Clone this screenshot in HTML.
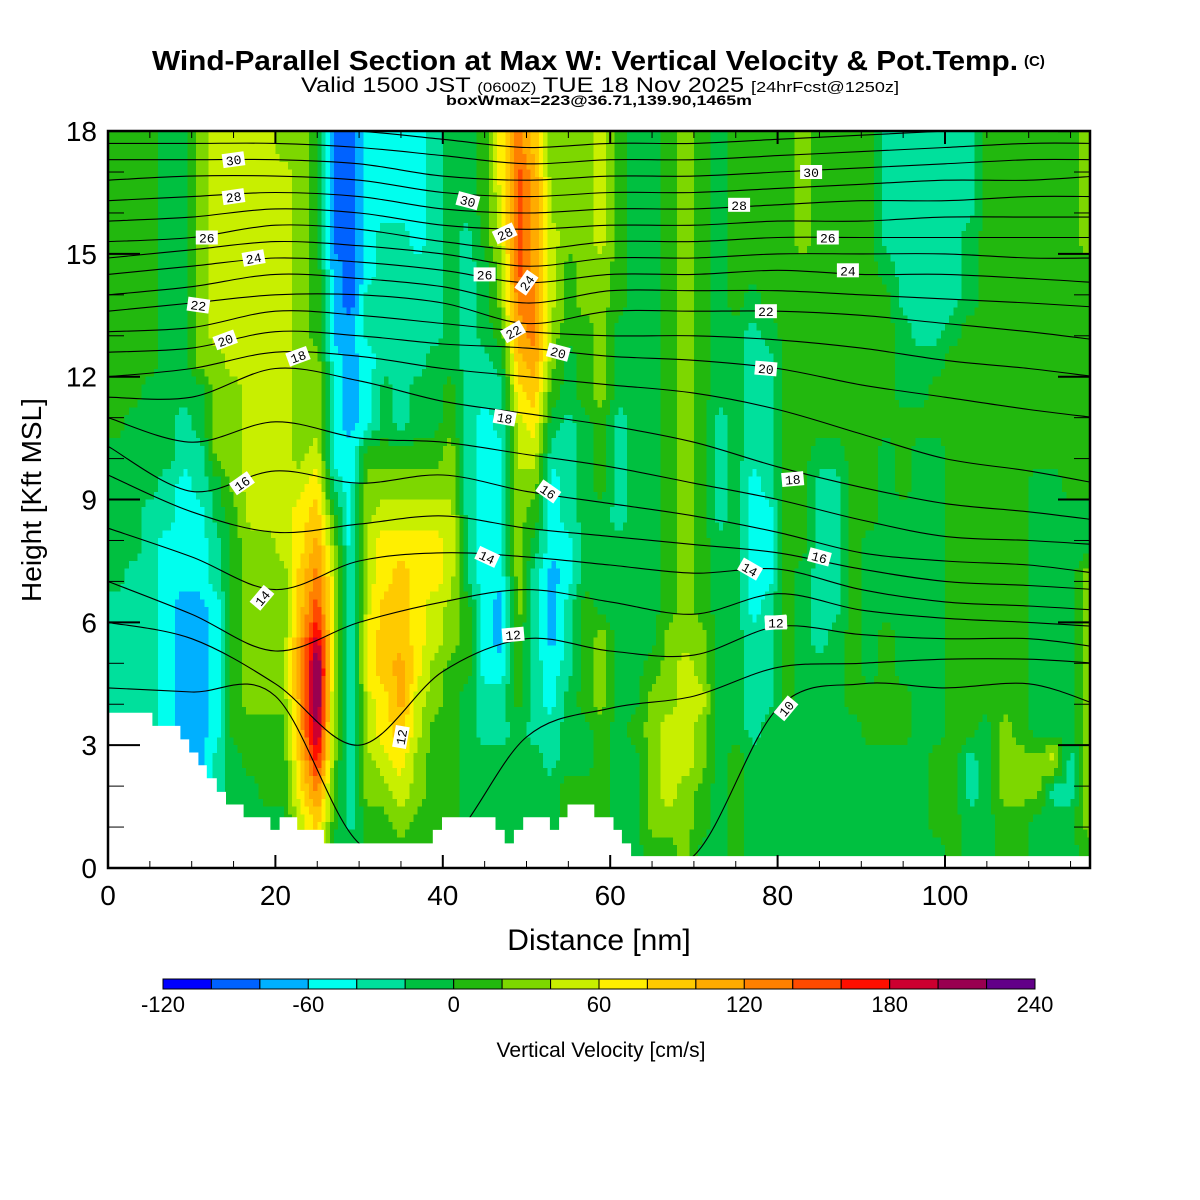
<!DOCTYPE html>
<html><head><meta charset="utf-8"><title>Wind-Parallel Section</title>
<style>
html,body{margin:0;padding:0;background:#fff;}
svg{display:block;font-family:"Liberation Sans",Arial,sans-serif;}
</style></head>
<body>
<svg id="chart" width="1200" height="1200" viewBox="0 0 1200 1200" xmlns="http://www.w3.org/2000/svg">
  <defs><clipPath id="plotclip"><rect x="108" y="131" width="982" height="737"/></clipPath></defs>
  <rect width="1200" height="1200" fill="#fff"/>
  <g>
    <text x="152" y="70" font-size="28" font-weight="bold" textLength="866" lengthAdjust="spacingAndGlyphs">Wind-Parallel Section at Max W: Vertical Velocity &amp; Pot.Temp.</text>
    <text x="1024" y="66" font-size="15" font-weight="bold">(C)</text>
    <text x="301" y="92" font-size="21" textLength="598" lengthAdjust="spacingAndGlyphs">Valid 1500 JST <tspan font-size="14">(0600Z)</tspan> TUE 18 Nov 2025 <tspan font-size="15">[24hrFcst@1250z]</tspan></text>
    <text x="446" y="105" font-size="14" font-weight="bold" textLength="306" lengthAdjust="spacingAndGlyphs">boxWmax=223@36.71,139.90,1465m</text>
  </g>
  <g id="cells" clip-path="url(#plotclip)" shape-rendering="crispEdges"></g>
  <g id="contours" clip-path="url(#plotclip)"></g>
  <g id="terrain" clip-path="url(#plotclip)"></g>
  <g id="clabels"></g>
  <rect x="108" y="131" width="982" height="737" fill="none" stroke="#000" stroke-width="2.5"/>
  <g id="axes"></g>
  <text x="599" y="950" font-size="30" text-anchor="middle">Distance [nm]</text>
  <text x="0" y="0" font-size="28" text-anchor="middle" transform="translate(41,500) rotate(-90)">Height [Kft MSL]</text>
  <g id="colorbar"></g>
  <text x="601" y="1057" font-size="21" text-anchor="middle">Vertical Velocity [cm/s]</text>
</svg>
<script>
// ---- data ----
const levelCodes = "ABCDEFGHIJKLMNOPQR";
const levelColors = ["#0000ff","#0062ff","#00b0ff","#00ffee","#00e09c","#00c040","#22b80e","#7dd700","#c8ef00","#ffef00","#ffca00","#ffab00","#ff8000","#ff4a00","#ff0f00","#cc0030","#990050","#620088"];
const cbTickValues = [-120,-60,0,60,120,180,240];
const cbBounds = [-120,240];
const colStepNm = 2;
const rowStepKft = 0.75;
// each string: one 2-nm column, top (18 kft) to bottom, one char per 0.75 kft
const wLevelCols = [
"GGGGGGGGGGFFFFFEEEEEEEEE","GGGGGGGGGFFFFFEEEEEEEEEE","GGGGGGGGFFFFEEEEEEEEEEEE","FFFFFFFFFFFEEDDDDDDDDDDD",
"FFFFFFFFFEEDDDDCCCCCCCCC","HHHHHHHHFFEEDDDCCCCCCDDD","IIIIIIIHHHHFFEEDDDDDEEEE","IIIIIIIIHHHHGGGGGGGGFFFF",
"IIIIIIIIIIIIIHHHHHHGGFFF","IIIIIIIIIIIIIHHHHHHGGGFF","HIIIIIIIIIIIIIHHHHHGGGFF","HHHHHHHHHHHIJJKKLLLLKJII",
"GGGGGGGHHHIJKLMNPRRQOMKJ","BBBBCCCDDDDEGHIIIIHHHGGF","BBBBBBCCCCDDDDDDDDDDDEEF","DDDDDEEDDDGHHIIIJJIIHHGG",
"DDDEEEEEFFGHIJJKKKJJIHGG","DDDEEEEEEEGHIJKKKLLKJIHG","DDDDEEEEFFGHIJJJJJIIHHGG","EEEEEEEFFFGHIJJIIHHGGGGG",
"FFFFFFFFGGHHIIIHHGGGGGGG","FFFEEEEEEEEEEEEGGGFFFFFG","GGGGFFFEEDDDDDDDDDEEFFFF","JJIIHHGFEEDDDDDCCDEEFFFF",
"MNNNNMLKJIIHHHHHGGGFFFFG","KLLLLMMLKJIHGFEEEEEEFFFG","HHHIIIHHGFEDDDCCCDDEEFFF","HHHHGGGFFEEEEDDEEEFFFGGG",
"HHHHHHGGGFFFFFFGGGGFFGGG","IIIIHHHHHGGGFFFFHHHGGGGG","GGGGGGFFFEEEEFFFFFFFFFFF","FFFFFFFFFFFFFFFFFFFGFFFF",
"FFFFFFFFFFFFFFFFFGHHHHHG","GGGGGGGGGGGGGGGGHHHIIIHG","HHHHHHHHHHHHHHHHHIIIIHHH","GGGGGGGGGGGGGGGGHHIHHGGF",
"FFFFFFFFFEEEEFFFFFFFFFFF","GGGGGGFFFFFFFFFFFFFFGGGG","GGGGGFEEEEEDDDDDEEEEFFFF","GGGGGGFEEEEEDDDEEEEFFFFF",
"GGGGGGGGGGGGGGGGGGGFFFFF","HHHHGGGGGGGGGGFFFFFFFFFF","GGGGGGGGGGFEEEEEEFFFFFFF","GGGGGGGGGGFEEEEEFFFFFFFF",
"GGGGGGGGGGGGGGGGGGGFFFFF","GGGGGGGGGGGGGFFFFFGGFFFF","EEEEFGGGGGFFFFFFGGGGFFFF","EEEEEEFFFGGGFFFFFFGGFFFF",
"EEEEEEEFFGFFFFFFFFFFFFFF","EEEEEEEFGGFFFFFFFFFFGGGF","EEEEEEFGGGGGGGGGGGGGGGGG","EEEFFFGGGGGGGGGGGGGGEEFF",
"GGGGGGGGGGGGGGGGGGGFFFFF","GGGGGGGGGGGGGGGGGGGHHHGG","GGGGGGGGGGGGGGGGGGGGHHGG","GGGGGGGGGGGFFFFFFFFFHHFF",
"GGGGGGGGGGGFFFFFFFFFIEFF","GGGGGGGGGGGGFFFFFFFFEEFF","HHHHGGGGGGGGFFHHHHHHHHHG"
];
// terrain step function: from terrainNm[i] height terrainKft[i]
const terrainNm  = [0,5.3,8.65,9.7,10.8,11.8,13.0,14.1,16.2,19.4,20.5,22.6,25.8,38.8,39.9,46.3,47.4,48.5,49.6,52.8,53.9,54.9,58.1,60.4,61.4,62.5];
const terrainKft = [3.79,3.47,3.14,2.82,2.51,2.19,1.86,1.55,1.24,0.93,1.24,0.93,0.60,0.93,1.24,0.93,0.60,0.93,1.24,0.93,1.24,1.55,1.24,0.93,0.60,0.29];
// potential temperature contours: heights (kft) at node distances
const thetaNodesNm = [0,10,20,30,40,50,60,70,80,90,100,110,118];
const thetaLevels = [10,11,12,13,14,15,16,17,18,19,20,21,22,23,24,25,26,27,28,29,30,31,32];
const thetaHeights = [
[0,0,0,0,0,0,0,0.3,3.9,4.5,4.4,4.5,4.0],
[4.4,4.3,4.2,0.6,0.5,3.2,3.9,4.2,4.9,5.0,5.1,5.1,5.0],
[6.0,5.6,4.5,3.0,4.8,5.6,5.3,5.2,5.9,5.7,5.6,5.6,5.4],
[7.0,6.2,5.3,6.0,6.5,6.8,6.5,6.2,6.7,6.3,6.1,6.0,5.9],
[8.3,7.6,6.8,7.5,7.7,7.6,7.4,7.2,7.3,6.8,6.5,6.4,6.3],
[9.6,8.7,8.2,8.4,8.6,8.3,8.1,7.9,7.7,7.3,7.0,6.9,6.8],
[10.3,9.2,9.7,9.4,9.6,9.2,8.9,8.6,8.2,7.7,7.5,7.4,7.2],
[11.0,10.4,10.9,10.5,10.4,10.1,9.8,9.4,9.0,8.5,8.1,8.0,7.9],
[11.5,11.5,12.2,11.9,11.4,11.1,10.8,10.4,9.8,9.3,8.9,8.7,8.5],
[12.0,12.2,12.6,12.5,12.2,12.0,11.8,11.6,11.2,10.6,10.0,9.7,9.4],
[12.6,12.7,13.1,13.0,12.8,12.7,12.5,12.4,12.2,11.8,11.5,11.2,11.0],
[13.1,13.2,13.6,13.5,13.3,13.1,13.0,13.0,12.9,12.7,12.4,12.2,12.0],
[13.6,13.8,14.0,14.0,13.8,13.3,13.6,13.6,13.6,13.5,13.3,13.1,12.9],
[14.0,14.2,14.5,14.4,14.2,13.8,14.1,14.1,14.1,14.0,13.9,13.8,13.7],
[14.5,14.7,14.9,14.8,14.6,14.3,14.5,14.5,14.6,14.5,14.5,14.4,14.3],
[14.9,15.1,15.3,15.2,15.0,14.7,14.9,14.9,15.0,15.0,15.0,14.9,14.9],
[15.3,15.4,15.7,15.6,15.3,15.1,15.3,15.3,15.4,15.4,15.4,15.4,15.4],
[15.8,15.9,16.1,16.0,15.7,15.6,15.7,15.7,15.8,15.8,15.9,15.9,15.9],
[16.3,16.4,16.5,16.4,16.1,16.0,16.1,16.1,16.2,16.3,16.3,16.4,16.4],
[16.8,16.9,16.9,16.8,16.5,16.4,16.5,16.5,16.6,16.7,16.8,16.8,16.9],
[17.3,17.3,17.3,17.2,16.9,16.8,16.9,16.9,17.0,17.1,17.2,17.3,17.3],
[17.7,17.7,17.7,17.6,17.4,17.2,17.3,17.3,17.4,17.5,17.6,17.7,17.7],
[18.1,18.1,18.1,18.0,17.8,17.6,17.7,17.7,17.8,17.9,18.0,18.1,18.1]
];
const labelText = ["30","28","26","24","22","20","18","16","14","12","30","28","26","24","22","20","18","16","14","12","12","10","30","28","26","24","22","20","18","16","14","12"];
const labelNm   = [15,15,11.8,17.4,10.8,14,22.7,16,18.4,35,43,47.4,45,50,48.4,53.8,47.4,52.6,45.3,48.4,79.8,81,84,75.4,86,88.4,78.6,78.6,81.8,85,76.7,79.8];
const labelKft  = [17.3,16.4,15.4,14.9,13.75,12.9,12.5,9.4,6.6,3.2,16.3,15.5,14.5,14.3,13.1,12.6,11.0,9.2,7.6,5.7,6.0,3.9,17.0,16.2,15.4,14.6,13.6,12.2,9.5,7.6,7.3,6.0];
const labelRot  = [-8,-8,0,-10,8,-20,-20,-35,-50,-80,15,-25,0,-55,-30,15,10,35,25,-5,-5,-50,0,0,0,0,0,5,-5,15,30,0];

// ---- axis functions ----
const X0 = 108, PXNM = 8.37, Y0 = 868, PXK = 40.94;
function X(nm){ return X0 + nm*PXNM; }
function Y(h){ return Y0 - h*PXK; }
const NS = "http://www.w3.org/2000/svg";
function mk(tag, attrs, parent){
  const e = document.createElementNS(NS, tag);
  for (const k in attrs) e.setAttribute(k, attrs[k]);
  parent.appendChild(e);
  return e;
}

// ---- field cells (bilinear-smoothed rendering of the level grid) ----
const cells = document.getElementById('cells');
const NC = wLevelCols.length, NR = wLevelCols[0].length;
function lev(c, r){
  c = Math.max(0, Math.min(NC-1, c)); r = Math.max(0, Math.min(NR-1, r));
  return levelCodes.indexOf(wLevelCols[c][r]);
}
const SUBX = 4, SUBY = 4;
for (let sr = 0; sr < NR*SUBY; sr++) {
  const rf = (sr + 0.5)/SUBY - 0.5;
  const r0 = Math.floor(rf), fr = rf - r0;
  const y1 = Y(18 - sr*rowStepKft/SUBY), y2 = Y(18 - (sr+1)*rowStepKft/SUBY);
  let runStart = 0, runLev = -1;
  const total = NC*SUBX;
  for (let sc = 0; sc <= total; sc++) {
    let L = -2;
    if (sc < total) {
      const cf = (sc + 0.5)/SUBX - 0.5;
      const c0 = Math.floor(cf), fc = cf - c0;
      const v = lev(c0,r0)*(1-fc)*(1-fr) + lev(c0+1,r0)*fc*(1-fr) + lev(c0,r0+1)*(1-fc)*fr + lev(c0+1,r0+1)*fc*fr;
      L = Math.round(v);
    }
    if (L !== runLev) {
      if (runLev >= 0) {
        const x1 = X(runStart*colStepNm/SUBX), x2 = X(sc*colStepNm/SUBX);
        const rc = mk('rect', {x: x1.toFixed(2), y: y1.toFixed(2), width: (x2-x1+0.5).toFixed(2), height: (y2-y1+0.5).toFixed(2), fill: levelColors[runLev]}, cells);
        
        
      }
      runStart = sc; runLev = L;
    }
  }
}

// ---- contours ----
const cg = document.getElementById('contours');
function smoothPath(pts){
  let d = "M" + pts[0][0].toFixed(1) + "," + pts[0][1].toFixed(1);
  for (let i = 0; i < pts.length-1; i++) {
    const p0 = pts[Math.max(0,i-1)], p1 = pts[i], p2 = pts[i+1], p3 = pts[Math.min(pts.length-1,i+2)];
    const c1x = p1[0] + (p2[0]-p0[0])/6, c1y = p1[1] + (p2[1]-p0[1])/6;
    const c2x = p2[0] - (p3[0]-p1[0])/6, c2y = p2[1] - (p3[1]-p1[1])/6;
    d += " C" + c1x.toFixed(1) + "," + c1y.toFixed(1) + " " + c2x.toFixed(1) + "," + c2y.toFixed(1) + " " + p2[0].toFixed(1) + "," + p2[1].toFixed(1);
  }
  return d;
}
thetaLevels.forEach((lv, i) => {
  const pts = thetaNodesNm.map((nm, j) => [X(nm), Y(thetaHeights[i][j])]);
  const p = mk('path', {d: smoothPath(pts), fill: "none", stroke: "#000", "stroke-width": 1.1}, cg);
  
  
});

// ---- terrain ----
const tg = document.getElementById('terrain');
let td = "M" + X(0) + "," + Y(0);
for (let i = 0; i < terrainNm.length; i++) {
  const xe = i+1 < terrainNm.length ? terrainNm[i+1] : 120;
  td += " L" + X(terrainNm[i]).toFixed(1) + "," + Y(terrainKft[i]).toFixed(1) + " L" + X(xe).toFixed(1) + "," + Y(terrainKft[i]).toFixed(1);
}
td += " L" + X(120) + "," + Y(0) + " Z";
const tp = mk('path', {d: td, fill: "#fff", stroke: "none"}, tg);



// ---- contour labels ----
const lg = document.getElementById('clabels');
labelText.forEach((t, i) => {
  const g = mk('g', {transform: "translate(" + X(labelNm[i]).toFixed(1) + "," + Y(labelKft[i]).toFixed(1) + ") rotate(" + labelRot[i] + ")"}, lg);
  
  
  mk('rect', {x: -11, y: -7, width: 22, height: 14, fill: "#fff"}, g);
  const tx = mk('text', {x: 0, y: 5, "font-size": 13, "text-anchor": "middle", "font-family": "Liberation Mono, monospace"}, g);
  tx.textContent = t;
});

// ---- axes ----
const ag = document.getElementById('axes');
for (let nm = 0; nm <= 115; nm += 5) {
  const major = nm % 20 === 0;
  const len = major ? 13 : 7;
  const x = X(nm);
  mk('line', {x1: x, y1: Y0, x2: x, y2: Y0-len, stroke: "#000", "stroke-width": major ? 2 : 1}, ag);
  mk('line', {x1: x, y1: 131, x2: x, y2: 131+len, stroke: "#000", "stroke-width": major ? 2 : 1}, ag);
  if (major) {
    const t = mk('text', {x: x, y: 905, "font-size": 28, "text-anchor": "middle"}, ag);
    
    
    t.textContent = nm;
  }
}
for (let h = 0; h <= 18; h += 1) {
  const major = h % 3 === 0;
  const len = major ? 32 : 16;
  const y = Y(h);
  mk('line', {x1: X0, y1: y, x2: X0+len, y2: y, stroke: "#000", "stroke-width": major ? 2 : 1}, ag);
  mk('line', {x1: 1090, y1: y, x2: 1090-len, y2: y, stroke: "#000", "stroke-width": major ? 2 : 1}, ag);
  if (major) {
    const t = mk('text', {x: 97, y: y+10, "font-size": 28, "text-anchor": "end"}, ag);
    
    
    t.textContent = h;
  }
}

// ---- colorbar ----
const cb = document.getElementById('colorbar');
const CB0 = 163, CB1 = 1035;
function CBX(v){ return CB0 + (v - cbBounds[0]) / (cbBounds[1]-cbBounds[0]) * (CB1-CB0); }
levelColors.forEach((col, i) => {
  const v0 = cbBounds[0] + i*20;
  const r = mk('rect', {x: CBX(v0).toFixed(1), y: 979, width: (CBX(v0+20)-CBX(v0)).toFixed(1), height: 10, fill: col, stroke: "#000", "stroke-width": 1}, cb);
  
  
});
cbTickValues.forEach(v => {
  const t = mk('text', {x: CBX(v).toFixed(1), y: 1012, "font-size": 22, "text-anchor": "middle"}, cb);
  
  
  t.textContent = v;
});
</script>
</body></html>
